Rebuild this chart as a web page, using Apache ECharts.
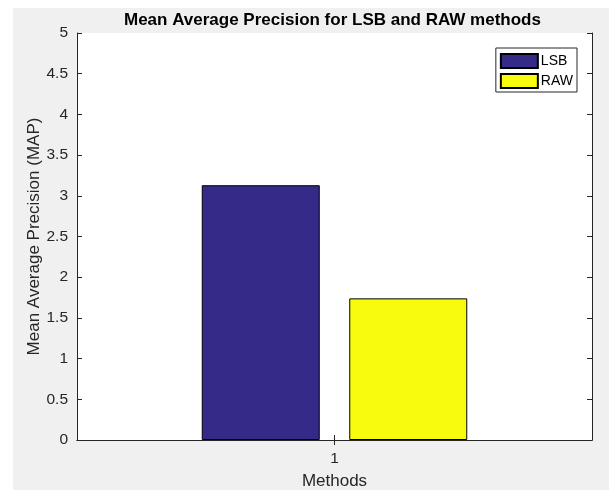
<!DOCTYPE html>
<html>
<head>
<meta charset="utf-8">
<script src="https://cdn.jsdelivr.net/npm/echarts@6/dist/echarts.min.js"></script>
<style>
  html, body { margin: 0; padding: 0; background: #ffffff; width: 609px; height: 490px; overflow: hidden; }
  #chart { position: absolute; left: 13px; top: 8px; width: 596px; height: 482px; background: #f0f0f0; }
</style>
</head>
<body>
<div id="chart"></div>
<script>
const categories = ['1'];
const seriesNames = ['LSB', 'RAW'];
const lsbValues = [3.13];
const rawValues = [1.74];
const seriesColors = ['#352a87', '#f9fb0e'];

const chart = echarts.init(document.getElementById('chart'), null, { renderer: 'canvas' });
const axisColor = '#262626';
const fontFamily = 'Arial, "Liberation Sans", Helvetica, sans-serif';

const commonXAxis = {
  type: 'category',
  data: categories,
  boundaryGap: true,
  axisLine: { show: true, lineStyle: { color: axisColor, width: 1 } },
  axisTick: { show: true, inside: true, alignWithLabel: true, length: 5, lineStyle: { color: axisColor } },
  splitLine: { show: false }
};
const commonYAxis = {
  type: 'value',
  min: 0, max: 5, interval: 0.5,
  axisLine: { show: true, lineStyle: { color: axisColor, width: 1 } },
  axisTick: { show: true, inside: true, length: 5, lineStyle: { color: axisColor } },
  splitLine: { show: false }
};

chart.setOption({
  animation: false,
  backgroundColor: '#f0f0f0',
  title: {
    text: 'Mean Average Precision for LSB and RAW methods',
    left: 111, top: 4, padding: 0,
    textStyle: { fontFamily, fontSize: 17, fontWeight: 'bold', color: '#000' }
  },
  legend: {
    data: seriesNames,
    orient: 'vertical',
    right: 32, top: 40,
    itemWidth: 37, itemHeight: 14, itemGap: 4,
    icon: 'rect',
    borderColor: axisColor, borderWidth: 1, borderRadius: 0,
    backgroundColor: '#ffffff',
    padding: [5, 4, 3, 4],
    textStyle: { fontFamily, fontSize: 14, lineHeight: 14, color: '#000', padding: [0, 0, 0, -2] }
  },
  grid: {
    left: 64, right: 17, top: 25, bottom: 50,
    show: true, backgroundColor: '#ffffff', borderWidth: 0,
    outerBoundsMode: 'none', containLabel: false
  },
  xAxis: [
    Object.assign({}, commonXAxis, {
      position: 'bottom',
      name: 'Methods', nameLocation: 'middle', nameGap: 33, nameMoveOverlap: false,
      nameTextStyle: { fontFamily, fontSize: 17, color: axisColor },
      axisLabel: { show: true, margin: 11, fontFamily, fontSize: 15.5, color: axisColor }
    }),
    Object.assign({}, commonXAxis, { position: 'top', axisLabel: { show: false } })
  ],
  yAxis: [
    Object.assign({}, commonYAxis, {
      position: 'left',
      name: 'Mean Average Precision (MAP)', nameLocation: 'middle', nameGap: 34, nameMoveOverlap: false,
      nameTextStyle: { fontFamily, fontSize: 17, color: axisColor },
      axisLabel: { show: true, margin: 9, fontFamily, fontSize: 15.5, color: axisColor }
    }),
    Object.assign({}, commonYAxis, { position: 'right', axisLabel: { show: false } })
  ],
  series: [
    {
      name: seriesNames[0], type: 'bar', xAxisIndex: 0, yAxisIndex: 0,
      data: lsbValues, barWidth: 118, barGap: '25%',
      itemStyle: { color: seriesColors[0], borderColor: '#000', borderWidth: 1 }
    },
    {
      name: seriesNames[1], type: 'bar', xAxisIndex: 0, yAxisIndex: 0,
      data: rawValues, barWidth: 118, barGap: '25%',
      itemStyle: { color: seriesColors[1], borderColor: '#000', borderWidth: 1 }
    }
  ]
});
</script>
</body>
</html>
